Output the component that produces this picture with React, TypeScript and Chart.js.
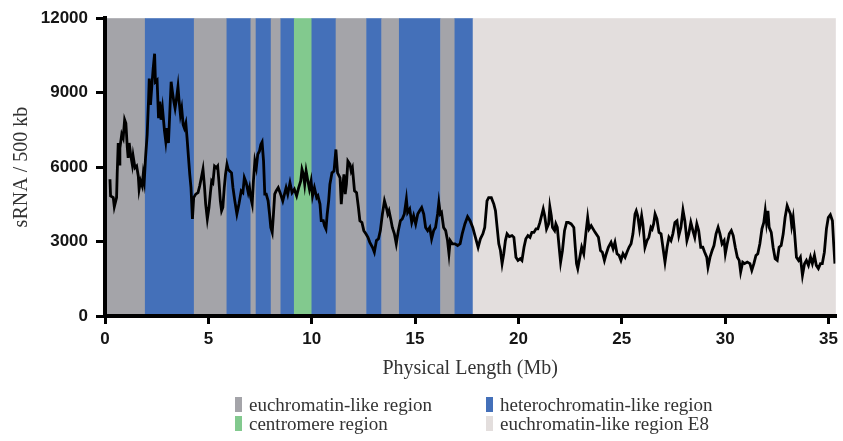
import React, { useEffect, useRef } from "react";
import { Chart, registerables } from "chart.js";
Chart.register(...registerables);

// sliding-window profile: physical position (Mb) and sRNA count per 500 kb
const positionMb = [
  0.24, 0.27, 0.40, 0.45, 0.56, 0.59, 0.64, 0.69, 0.72, 0.81,
  0.88, 0.95, 1.01, 1.08, 1.12, 1.17, 1.24, 1.32, 1.36, 1.45,
  1.53, 1.61, 1.65, 1.72, 1.80, 1.85, 1.90, 1.96, 2.04, 2.11,
  2.14, 2.20, 2.27, 2.33, 2.40, 2.44, 2.52, 2.59, 2.65, 2.71,
  2.78, 2.88, 2.94, 3.00, 3.07, 3.13, 3.20, 3.26, 3.33, 3.39,
  3.46, 3.53, 3.58, 3.65, 3.71, 3.78, 3.84, 3.91, 3.97, 4.04,
  4.10, 4.16, 4.23, 4.29, 4.39, 4.50, 4.58, 4.66, 4.74, 4.81,
  4.87, 4.95, 5.03, 5.10, 5.16, 5.22, 5.30, 5.39, 5.45, 5.51,
  5.58, 5.64, 5.70, 5.77, 5.83, 5.90, 5.96, 6.03, 6.12, 6.19,
  6.28, 6.38, 6.48, 6.59, 6.67, 6.74, 6.83, 6.93, 6.99, 7.05,
  7.12, 7.18, 7.25, 7.32, 7.39, 7.47, 7.54, 7.60, 7.67, 7.73,
  7.80, 7.89, 7.96, 8.02, 8.09, 8.15, 8.21, 8.28, 8.38, 8.47,
  8.60, 8.76, 8.84, 8.95, 9.05, 9.16, 9.27, 9.37, 9.47, 9.53,
  9.60, 9.66, 9.73, 9.80, 9.89, 9.97, 10.04, 10.13, 10.24, 10.30,
  10.40, 10.46, 10.56, 10.62, 10.69, 10.75, 10.82, 10.88, 10.98, 11.08,
  11.17, 11.25, 11.37, 11.43, 11.49, 11.56, 11.62, 11.68, 11.75, 11.85,
  11.91, 11.97, 12.07, 12.17, 12.26, 12.33, 12.43, 12.52, 12.62, 12.72,
  12.81, 12.94, 13.03, 13.13, 13.23, 13.32, 13.42, 13.52, 13.61, 13.68,
  13.74, 13.84, 13.90, 14.00, 14.09, 14.19, 14.29, 14.38, 14.48, 14.58,
  14.64, 14.74, 14.84, 14.93, 15.03, 15.13, 15.22, 15.32, 15.42, 15.51,
  15.61, 15.71, 15.80, 15.90, 15.99, 16.09, 16.15, 16.22, 16.28, 16.38,
  16.48, 16.57, 16.64, 16.70, 16.80, 16.93, 17.06, 17.18, 17.28, 17.41,
  17.54, 17.66, 17.79, 17.92, 18.05, 18.16, 18.28, 18.37, 18.48, 18.56,
  18.69, 18.81, 18.89, 18.97, 19.05, 19.13, 19.21, 19.29, 19.37, 19.45,
  19.56, 19.69, 19.78, 19.88, 19.98, 20.09, 20.17, 20.27, 20.36, 20.46,
  20.56, 20.65, 20.75, 20.85, 20.94, 21.04, 21.14, 21.20, 21.27, 21.36,
  21.46, 21.52, 21.59, 21.65, 21.75, 21.81, 21.88, 21.97, 22.04, 22.13,
  22.23, 22.33, 22.42, 22.55, 22.68, 22.75, 22.81, 22.87, 22.97, 23.06,
  23.16, 23.26, 23.35, 23.42, 23.52, 23.61, 23.71, 23.87, 23.97, 24.06,
  24.16, 24.25, 24.35, 24.48, 24.58, 24.67, 24.77, 24.87, 24.96, 25.06,
  25.16, 25.25, 25.35, 25.45, 25.54, 25.64, 25.70, 25.77, 25.86, 25.96,
  26.02, 26.12, 26.22, 26.31, 26.41, 26.47, 26.54, 26.61, 26.70, 26.80,
  26.90, 26.99, 27.09, 27.19, 27.28, 27.38, 27.47, 27.57, 27.67, 27.76,
  27.86, 27.96, 28.05, 28.15, 28.24, 28.34, 28.44, 28.53, 28.63, 28.72,
  28.82, 28.92, 29.01, 29.11, 29.17, 29.27, 29.37, 29.46, 29.56, 29.66,
  29.75, 29.85, 29.95, 30.01, 30.10, 30.20, 30.30, 30.39, 30.49, 30.59,
  30.68, 30.75, 30.85, 30.94, 31.07, 31.20, 31.29, 31.39, 31.49, 31.58,
  31.68, 31.78, 31.87, 31.94, 32.00, 32.07, 32.13, 32.23, 32.32, 32.42,
  32.52, 32.61, 32.71, 32.81, 32.90, 33.00, 33.06, 33.16, 33.22, 33.29,
  33.35, 33.45, 33.55, 33.64, 33.74, 33.84, 33.93, 34.03, 34.13, 34.22,
  34.32, 34.41, 34.51, 34.61, 34.70, 34.80, 34.90, 34.99, 35.09, 35.19,
  35.25, 35.31,
];

const sRNAPer500kb = [
  5510, 4840, 4770, 4400, 4770, 5720, 6970, 6120, 6770, 7320,
  7170, 7910, 7770, 6770, 6370, 6970, 6510, 6110, 6440, 5970,
  6040, 5640, 5110, 5440, 5240, 5710, 5440, 6370, 7310, 8770,
  9570, 8510, 9310, 9970, 10570, 9440, 9510, 7970, 8640, 7910,
  8370, 7440, 7040, 7570, 6970, 8110, 9440, 9040, 8640, 8370,
  8770, 9240, 8710, 8110, 8370, 7710, 7570, 7770, 7170, 6370,
  5710, 5170, 3910, 4770, 4910, 4970, 5240, 5570, 5910, 5240,
  4510, 3910, 4370, 4970, 5440, 5370, 6040, 5970, 6040, 5440,
  4640, 4240, 4370, 5170, 5710, 6110, 5910, 5840, 5770, 5170,
  4640, 4110, 4510, 5040, 4970, 5570, 5370, 4970, 5170, 4770,
  4510, 5440, 6240, 5970, 6510, 6640, 6910, 7010, 6240, 4910,
  4910, 4640, 4110, 3570, 3370, 4110, 4910, 5040, 5170, 4970,
  4640, 5170, 4910, 5370, 4970, 5110, 4840, 5170, 5440, 5910,
  5710, 5310, 5840, 5510, 5110, 5440, 4840, 5170, 4770, 4840,
  4510, 3840, 3840, 3640, 3510, 4110, 4640, 5310, 5770, 5840,
  6710, 5770, 5570, 4510, 5170, 5710, 4910, 5310, 6240, 6110,
  5840, 5970, 5040, 4970, 4370, 3840, 3770, 3440, 3310, 3170,
  2970, 2770, 2570, 3040, 3110, 3440, 4110, 4640, 4370, 4110,
  4240, 3840, 3570, 3310, 2910, 3440, 3840, 3910, 4110, 4710,
  4170, 4310, 3770, 4040, 3710, 4110, 4240, 4370, 4110, 3570,
  3440, 3570, 3110, 3440, 3570, 4110, 4570, 4110, 4170, 3570,
  3440, 3040, 2510, 3040, 2910, 2910, 2840, 2910, 3310, 3710,
  4000, 3840, 3570, 3170, 2770, 3110, 3310, 3570, 4640, 4770,
  4770, 4510, 4240, 3570, 2910, 2640, 2110, 2510, 3040, 3310,
  3200, 3240, 3170, 2370, 2240, 2310, 2240, 2770, 3110, 3240,
  3170, 3370, 3370, 3510, 3510, 3770, 4110, 4310, 4040, 3510,
  3710, 4400, 4040, 3570, 3440, 3710, 3570, 2770, 2170, 2640,
  3440, 3770, 3770, 3710, 3570, 2770, 2110, 1910, 2370, 2770,
  2510, 3310, 3970, 3510, 3640, 3510, 3370, 3170, 2640, 2570,
  2240, 2510, 2770, 2970, 2710, 2970, 2510, 2440, 2240, 2510,
  2370, 2570, 2770, 2910, 3310, 4110, 4240, 4040, 3510, 4040,
  3710, 2770, 3040, 3170, 3570, 3500, 3710, 4110, 3910, 3370,
  3310, 2770, 2170, 2770, 3170, 3040, 3310, 3770, 3840, 3240,
  3570, 4270, 3840, 3040, 3310, 3770, 3440, 3170, 3710, 3440,
  2770, 2770, 2570, 2370, 1970, 2370, 2640, 2840, 3310, 3570,
  3310, 2910, 3040, 2510, 2910, 3310, 3440, 3240, 2770, 2370,
  2240, 1770, 2170, 2110, 2170, 2110, 1840, 2110, 2440, 2510,
  2910, 3510, 3770, 4240, 3770, 4240, 3570, 3370, 2770, 2310,
  2240, 2770, 2840, 3310, 3970, 4440, 4310, 4110, 3640, 3970,
  3440, 2370, 2240, 2370, 1640, 2110, 2240, 2040, 2370, 2110,
  2440, 2040, 1910, 2110, 2110, 2570, 3510, 3970, 4080, 3840,
  2910, 2110,
];

// chromatin region bands (Mb)
const bandStartMb = [0, 1.93, 4.3, 5.88, 7.04, 7.29, 8.02, 8.49, 9.14, 9.99, 11.16, 12.64, 13.37, 14.22, 16.22, 16.91, 17.79];
const bandEndMb = [1.93, 4.3, 5.88, 7.04, 7.29, 8.02, 8.49, 9.14, 9.99, 11.16, 12.64, 13.37, 14.22, 16.22, 16.91, 17.79, 35.33];
const bandKind = ["eu", "hetero", "eu", "hetero", "eu", "hetero", "eu", "hetero", "centro", "hetero", "eu", "hetero", "eu", "hetero", "eu", "hetero", "e8"];

const xTickValues = [0, 5, 10, 15, 20, 25, 30, 35];
const yTickValues = [0, 3000, 6000, 9000, 12000];

const legendKinds = ["eu", "hetero", "centro", "e8"];
const legendLabels = ["euchromatin-like region", "heterochromatin-like region", "centromere region", "euchromatin-like region E8"];

const kindColor: Record<string, string> = {
  eu: "#a4a4a9",
  hetero: "#4470b9",
  centro: "#82c98e",
  e8: "#e3dedd",
};

const bandsPlugin = {
  id: "bands",
  beforeDraw(chart: any) {
    const { ctx, chartArea, scales } = chart;
    const x = scales.x;
    ctx.save();
    bandStartMb.forEach((s, i) => {
      const x0 = x.getPixelForValue(s);
      const x1 = x.getPixelForValue(bandEndMb[i]);
      ctx.fillStyle = kindColor[bandKind[i]];
      ctx.fillRect(x0, chartArea.top, x1 - x0 + 0.5, chartArea.bottom - chartArea.top);
    });
    ctx.restore();
  },
};

export default function App() {
  const ref = useRef<HTMLCanvasElement>(null);
  useEffect(() => {
    const chart = new Chart(ref.current as HTMLCanvasElement, {
      type: "line",
      data: {
        datasets: [
          {
            data: positionMb.map((x, i) => ({ x, y: sRNAPer500kb[i] })),
            borderColor: "#000",
            borderWidth: 2.8,
            pointRadius: 0,
            tension: 0,
            fill: false,
          },
        ],
      },
      options: {
        animation: false,
        responsive: false,
        maintainAspectRatio: false,
        layout: { padding: { left: 0, right: 5, top: 16, bottom: 59 } },
        plugins: { legend: { display: false }, tooltip: { enabled: false } },
        scales: {
          x: {
            type: "linear",
            min: 0,
            max: 35.33,
            afterBuildTicks: (s: any) => {
              s.ticks = xTickValues.map((v) => ({ value: v }));
            },
            afterFit: (s: any) => {
              s.height = 66;
            },
            grid: { drawOnChartArea: false, drawTicks: true, tickLength: 8, color: "#000", lineWidth: 3 },
            border: { display: true, color: "#000", width: 4 },
            ticks: {
              font: { family: "Liberation Sans", weight: "bold", size: 17 },
              color: "#151515",
              padding: 5,
              maxRotation: 0,
              autoSkip: false,
              callback: (v: any) => String(v),
            },
            title: {
              display: true,
              text: "Physical Length (Mb)",
              font: { family: "Liberation Serif", size: 20 },
              color: "#333",
              padding: { top: 0, bottom: 1 },
            },
          },
          y: {
            min: 0,
            max: 12000,
            afterBuildTicks: (s: any) => {
              s.ticks = yTickValues.map((v) => ({ value: v }));
            },
            afterFit: (s: any) => {
              s.width = 105;
            },
            grid: { drawOnChartArea: false, drawTicks: true, tickLength: 9, color: "#000", lineWidth: 3 },
            border: { display: true, color: "#000", width: 4 },
            ticks: {
              font: { family: "Liberation Sans", weight: "bold", size: 17 },
              color: "#151515",
              padding: 8,
              callback: (v: any) => String(v),
            },
            title: {
              display: true,
              text: "sRNA / 500 kb",
              font: { family: "Liberation Serif", size: 20 },
              color: "#333",
              padding: { top: 10, bottom: 0 },
            },
          },
        },
      },
      plugins: [bandsPlugin],
    } as any);
    return () => chart.destroy();
  }, []);

  return (
    <div style={{ position: "absolute", left: 0, top: 0, width: 843, height: 441, background: "#fff" }}>
      <canvas ref={ref} width={843} height={441} style={{ position: "absolute", left: 0, top: 0, width: 843, height: 441 }} />
      {legendKinds.map((k, i) => {
        const col = i % 2;
        const row = Math.floor(i / 2);
        const left = col === 0 ? 235 : 486;
        const top = row === 0 ? 397 : 416;
        return (
          <React.Fragment key={k}>
            <div style={{ position: "absolute", left, top, width: 7, height: 15, background: kindColor[k] }} />
            <span
              style={{
                position: "absolute",
                left: left + 14,
                top: top - 4,
                fontFamily: "Liberation Serif",
                fontSize: 19,
                lineHeight: "24px",
                color: "#333",
                whiteSpace: "nowrap",
              }}
            >
              {legendLabels[i]}
            </span>
          </React.Fragment>
        );
      })}
    </div>
  );
}
